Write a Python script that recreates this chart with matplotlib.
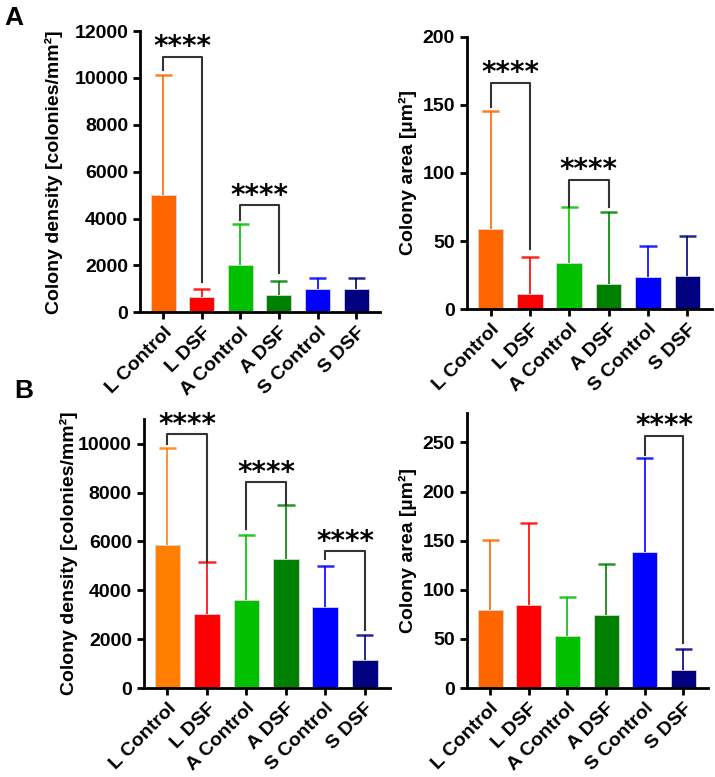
import numpy as np
import matplotlib
matplotlib.use('Agg')
import matplotlib.pyplot as plt

plt.rcParams['font.family'] = ['Liberation Sans', 'DejaVu Sans']
plt.rcParams['font.weight'] = 'bold'

groups = ['L Control', 'L DSF', 'A Control', 'A DSF', 'S Control', 'S DSF']

a_density_mean = [5000, 650, 2000, 750, 1000, 1000]
a_density_sd = [5130, 350, 1750, 600, 450, 450]
a_area_mean = [58.5, 11.5, 34, 18.5, 24, 24.5]
a_area_sd = [87, 26.5, 41, 53, 22.5, 29]

b_density_mean = [5850, 3020, 3600, 5300, 3330, 1150]
b_density_sd = [3980, 2130, 2670, 2200, 1670, 1000]
b_area_mean = [79.5, 84.5, 53, 74.5, 138, 18.5]
b_area_sd = [71.5, 83, 40, 51.5, 96, 21.5]

# significance brackets: (left bar, right bar, top, left leg end, right leg end)
a_density_sig = [(0, 1, 10900, 10350, 1300), (2, 3, 4570, 3930, 1670)]
a_area_sig = [(0, 1, 166, 148, 44.5), (2, 3, 95, 75, 75)]
b_density_sig = [(0, 1, 10380, 10000, 5160), (2, 3, 8420, 6500, 7490), (4, 5, 5600, 5270, 2390)]
b_area_sig = [(4, 5, 257, 237, 46)]

colors_a = ['#FF6600', '#FF0000', '#00C000', '#008000', '#0000FF', '#000080']
colors_b = ['#FF8000', '#FF0000', '#00C000', '#008000', '#0000FF', '#000080']
colors_b2 = ['#FF6600', '#FF0000', '#00C000', '#008000', '#0000FF', '#000080']


def bar_panel(ax, means, sds, colors, sigs, ylim, ystep, ylabel, pad=4):
    x = np.arange(len(means))
    ax.bar(x, means, width=0.65, color=colors, edgecolor='#d8d8d8', linewidth=0.6, zorder=2)
    # upper error bar only
    tops = np.array(means) + np.array(sds)
    for xi, m, t, c in zip(x, means, tops, colors):
        ax.vlines(xi, m, t, color=c, alpha=0.85, lw=1.4, zorder=1)
        ax.hlines(t, xi - 0.22, xi + 0.22, color=c, alpha=0.85, lw=1.8, zorder=1)
    for i, j, top, lb, rb in sigs:
        ax.plot([i, i, j, j], [lb, top, top, rb], color='#333333', lw=1.5, zorder=3)
        ax.annotate('****', ((i + j) / 2, top), xytext=(0, 1), textcoords='offset points',
                    ha='center', va='baseline', fontsize=20, family='DejaVu Sans')
    ax.set_xlim(-0.6, 5.63)
    ax.set_ylim(*ylim)
    ax.set_yticks(np.arange(0, ylim[1] + 1, ystep))
    ax.set_xticks(x)
    ax.set_xticklabels(groups, rotation=45, ha='right', rotation_mode='anchor')
    ax.set_ylabel(ylabel, fontsize=14, fontweight='bold', labelpad=pad)
    ax.tick_params(width=2, length=5, labelsize=14)
    for side in ['top', 'right']:
        ax.spines[side].set_visible(False)
    for side in ['left', 'bottom']:
        ax.spines[side].set_linewidth(2)
    for lab in ax.get_xticklabels() + ax.get_yticklabels():
        lab.set_fontweight('bold')


fig = plt.figure(figsize=(7.15, 7.77), dpi=100)
ax1 = fig.add_axes([0.196, 0.598, 0.336, 0.362])
ax2 = fig.add_axes([0.653, 0.602, 0.343, 0.351])
ax3 = fig.add_axes([0.201, 0.1145, 0.344, 0.346])
ax4 = fig.add_axes([0.653, 0.1145, 0.337, 0.354])

bar_panel(ax1, a_density_mean, a_density_sd, colors_a, a_density_sig,
          (0, 12000), 2000, 'Colony density [colonies/mm²]', pad=8)
bar_panel(ax2, a_area_mean, a_area_sd, colors_a, a_area_sig,
          (0, 200), 50, 'Colony area [µm²]')
bar_panel(ax3, b_density_mean, b_density_sd, colors_b, b_density_sig,
          (0, 11000), 2000, 'Colony density [colonies/mm²]', pad=0)
bar_panel(ax4, b_area_mean, b_area_sd, colors_b2, b_area_sig,
          (0, 280), 50, 'Colony area [µm²]')

fig.text(0.006, 0.992, 'A', fontsize=19, fontweight='bold', va='top')
fig.text(0.020, 0.512, 'B', fontsize=19, fontweight='bold', va='top')

fig.savefig('out.png', dpi=100)
